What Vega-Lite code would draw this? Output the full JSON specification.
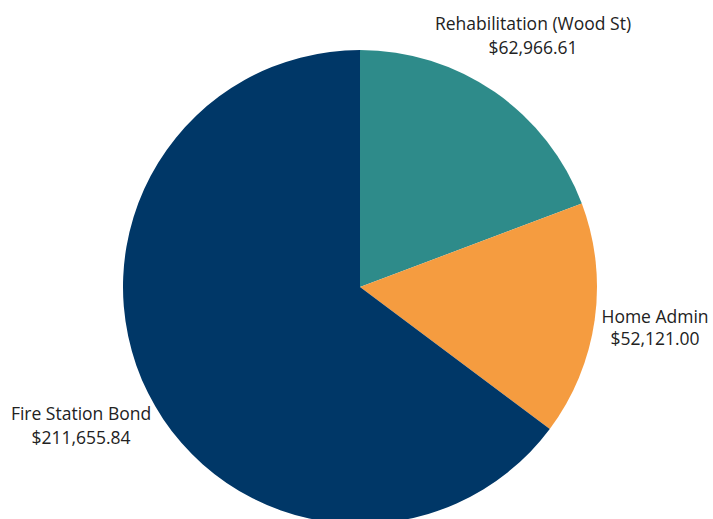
{
  "$schema": "https://vega.github.io/schema/vega-lite/v6.json",
  "width": 720,
  "height": 574,
  "autosize": {"type": "none"},
  "padding": 0,
  "background": "white",
  "view": {"stroke": null},
  "data": {
    "values": [
      {"category": "Rehabilitation (Wood St)", "amount": 62966.61, "label": "$62,966.61", "ord": 1},
      {"category": "Home Admin", "amount": 52121.00, "label": "$52,121.00", "ord": 2},
      {"category": "Fire Station Bond", "amount": 211655.84, "label": "$211,655.84", "ord": 3}
    ]
  },
  "encoding": {
    "theta": {"field": "amount", "type": "quantitative", "stack": true},
    "order": {"field": "ord", "type": "quantitative"}
  },
  "layer": [
    {
      "mark": {"type": "arc", "outerRadius": 237},
      "encoding": {
        "color": {
          "field": "category",
          "type": "nominal",
          "scale": {
            "domain": ["Rehabilitation (Wood St)", "Home Admin", "Fire Station Bond"],
            "range": ["#2e8b8a", "#f59c40", "#003767"]
          },
          "legend": null
        }
      }
    },
    {
      "mark": {"type": "text", "radius": 304, "dy": -12, "font": "Open Sans", "fontSize": 17.5, "color": "#222222"},
      "encoding": {"text": {"field": "category"}, "opacity": {"condition": {"test": "datum.ord == 1", "value": 1}, "value": 0}}
    },
    {
      "mark": {"type": "text", "radius": 304, "dy": 12, "font": "Open Sans", "fontSize": 17.5, "color": "#222222"},
      "encoding": {"text": {"field": "label"}, "opacity": {"condition": {"test": "datum.ord == 1", "value": 1}, "value": 0}}
    },
    {
      "mark": {"type": "text", "radius": 298, "dy": -11, "font": "Open Sans", "fontSize": 17.5, "color": "#222222"},
      "encoding": {"text": {"field": "category"}, "opacity": {"condition": {"test": "datum.ord == 2", "value": 1}, "value": 0}}
    },
    {
      "mark": {"type": "text", "radius": 298, "dy": 11, "font": "Open Sans", "fontSize": 17.5, "color": "#222222"},
      "encoding": {"text": {"field": "label"}, "opacity": {"condition": {"test": "datum.ord == 2", "value": 1}, "value": 0}}
    },
    {
      "mark": {"type": "text", "radius": 312, "dy": -12, "font": "Open Sans", "fontSize": 17.5, "color": "#222222"},
      "encoding": {"text": {"field": "category"}, "opacity": {"condition": {"test": "datum.ord == 3", "value": 1}, "value": 0}}
    },
    {
      "mark": {"type": "text", "radius": 312, "dy": 12, "font": "Open Sans", "fontSize": 17.5, "color": "#222222"},
      "encoding": {"text": {"field": "label"}, "opacity": {"condition": {"test": "datum.ord == 3", "value": 1}, "value": 0}}
    }
  ]
}
